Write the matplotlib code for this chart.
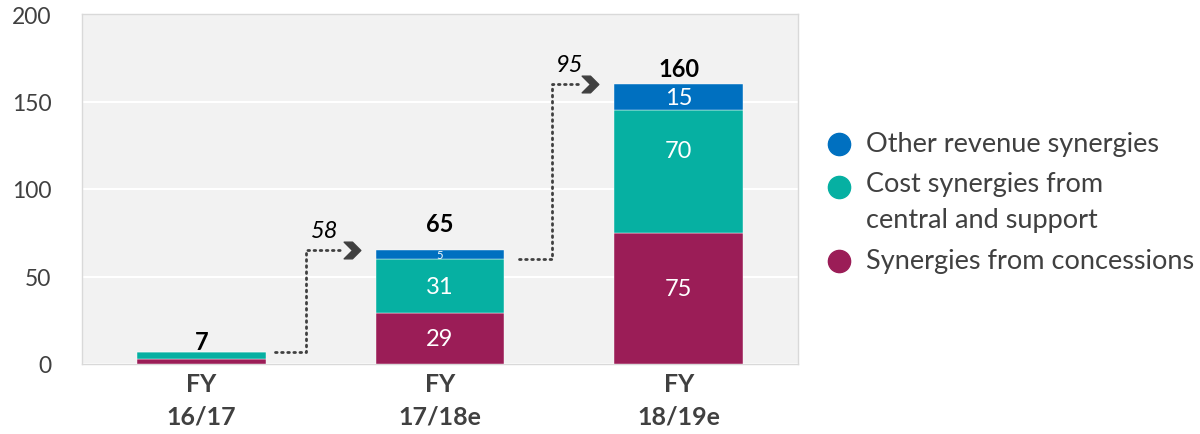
import numpy as np
import matplotlib.pyplot as plt
from matplotlib.path import Path

plt.rcParams['font.family'] = ['Lato', 'DejaVu Sans']

years = ["FY\n16/17", "FY\n17/18e", "FY\n18/19e"]
concessions = [3, 29, 75]
cost = [4, 31, 70]
other = [0, 5, 15]
totals = [7, 65, 160]
steps = ["58", "95"]
step_from = [7, 60]

# where the value labels sit
conc_label_y = [None, 14.5, 43]
cost_label_y = [None, 44.5, 122]
total_label_y = [8.5, 76, 164.5]

c_conc = "#9b1d57"
c_cost = "#06b0a2"
c_other = "#0070c0"
grey = "#404040"

fig = plt.figure(figsize=(12, 4.35), dpi=100)
ax = fig.add_axes([82 / 1200, 70 / 435, 716 / 1200, 350 / 435])
ax.set_facecolor("#f2f2f2")

x = np.arange(len(years))
w = 0.54
conc = np.array(concessions)
cst = np.array(cost)
oth = np.array(other)
ax.bar(x, conc, w, color=c_conc, edgecolor="white", linewidth=0.3, zorder=3)
ax.bar(x, cst, w, bottom=conc, color=c_cost, edgecolor="white", linewidth=0.3, zorder=3)
ax.bar(x, oth, w, bottom=conc + cst, color=c_other, edgecolor="white", linewidth=0.3, zorder=3)

# segment values (first bar is too thin to label)
for i in range(1, len(x)):
    ax.text(x[i], conc_label_y[i], str(conc[i]), color="white", ha="center", va="center", fontsize=17, zorder=4)
    ax.text(x[i], cost_label_y[i], str(cst[i]), color="white", ha="center", va="center", fontsize=17, zorder=4)
    fs = 8 if oth[i] < 8 else 17
    ax.text(x[i], conc[i] + cst[i] + oth[i] / 2, str(oth[i]), color="white", ha="center", va="center", fontsize=fs, zorder=4)

for i, t in enumerate(totals):
    ax.text(x[i], total_label_y[i], str(t), ha="center", va="baseline", fontsize=17, fontweight="bold", color="black")

# dotted step connectors with chevron heads
chev = Path([(-0.5, 0.5), (0.0, 0.5), (0.5, 0.0), (0.0, -0.5), (-0.5, -0.5), (0.0, 0.0), (-0.5, 0.5)],
            [Path.MOVETO] + [Path.LINETO] * 5 + [Path.CLOSEPOLY])
for i, lab in enumerate(steps):
    x0 = x[i] + w / 2 + (0.04 if i == 0 else 0.06)
    xv = x[i] + w / 2 + 0.17 + 0.03 * i
    xe = x[i + 1] - w / 2 - 0.14
    y0 = step_from[i]
    y1 = totals[i + 1]
    ax.plot([x0, xv, xv, xe], [y0, y0, y1, y1], color=grey, lw=2, linestyle=(0, (0.6, 1.6)),
            dash_capstyle="round", zorder=2)
    ax.plot([xe + 0.04], [y1], marker=chev, markersize=12, color=grey, linestyle="none", zorder=2)
    ax.text(xv + 0.075, y1 + 11, lab, ha="center", va="center", fontsize=17, style="italic", color="black")

ax.set_xlim(-0.5, 2.5)
ax.set_ylim(0, 200)
ax.set_yticks([0, 50, 100, 150, 200])
ax.set_xticks(x)
ax.set_xticklabels(years, fontsize=18, fontweight="bold", color=grey, linespacing=1.5)
ax.tick_params(axis="y", length=0, pad=22, labelsize=16.5, labelcolor=grey)
ax.tick_params(axis="x", length=0, pad=6)
ax.grid(axis="y", color="white", lw=1.5, zorder=1)
ax.set_axisbelow(True)
for s in ax.spines.values():
    s.set_color("#d9d9d9")
    s.set_linewidth(1)

# legend, drawn by hand so the marker sits on the first line
leg = [(c_other, "Other revenue synergies", 145),
       (c_cost, "Cost synergies from\ncentral and support", 188),
       (c_conc, "Synergies from concessions", 262)]
for col, lab, yp in leg:
    yf = 1 - yp / 435
    fig.lines.append(plt.Line2D([839 / 1200], [yf], transform=fig.transFigure, marker="o",
                                markersize=16, color=col, linestyle="none"))
    if "\n" in lab:
        fig.text(866 / 1200, yf + 0.037, lab, ha="left", va="top", fontsize=19.5, color=grey, linespacing=1.55)
    else:
        fig.text(866 / 1200, yf + 0.002, lab, ha="left", va="center", fontsize=19.5, color=grey)

fig.savefig("out.png", dpi=100)
